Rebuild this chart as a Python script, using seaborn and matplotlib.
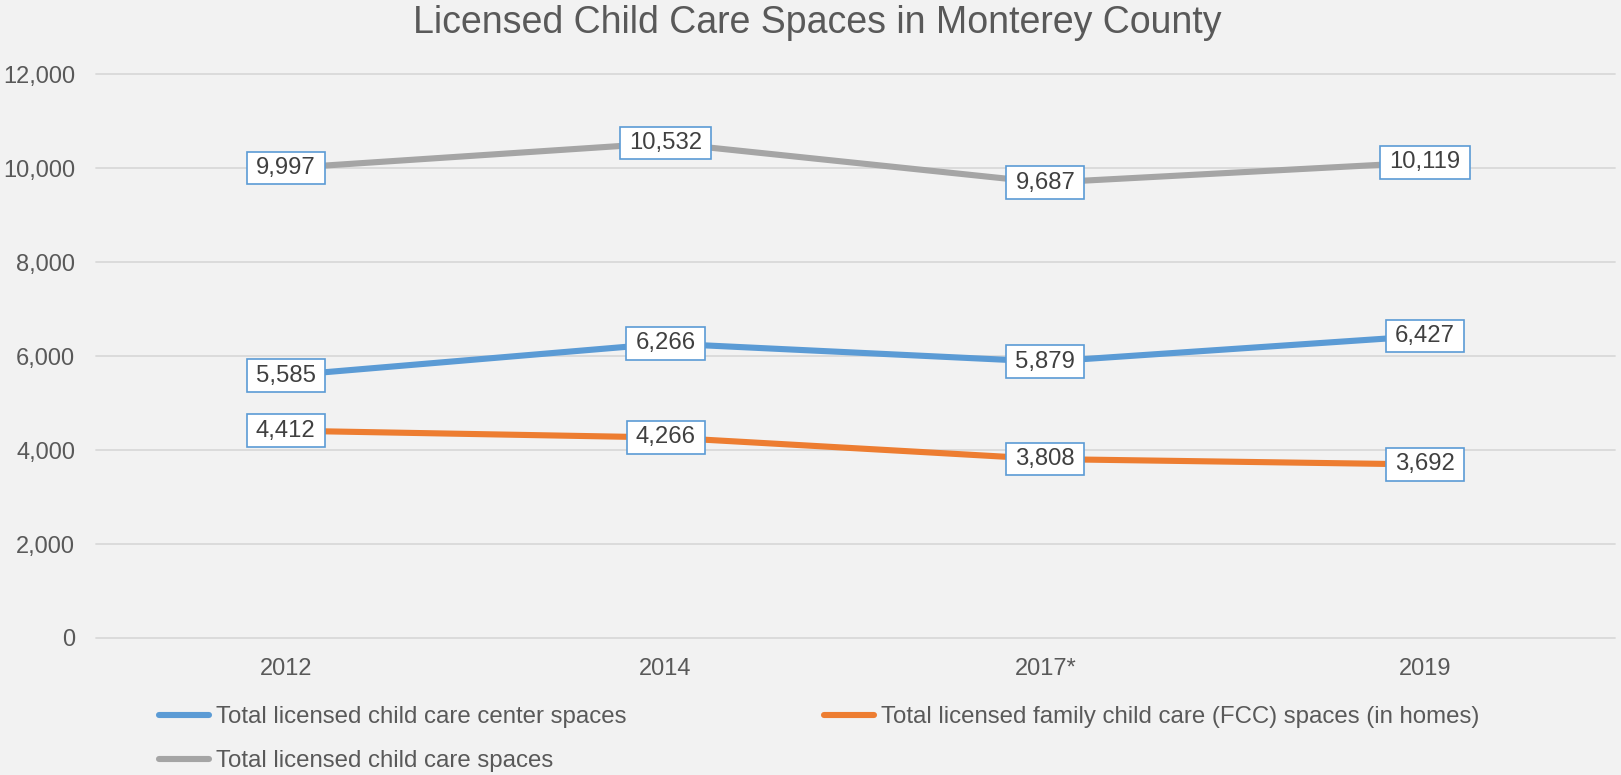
import numpy as np
import pandas as pd
import matplotlib
matplotlib.use("Agg")
import matplotlib.pyplot as plt
import seaborn as sns
from matplotlib.lines import Line2D
from matplotlib.path import Path

# ---- data ----
years = ["2012", "2014", "2017*", "2019"]
center_spaces = [5585, 6266, 5879, 6427]
fcc_spaces = [4412, 4266, 3808, 3692]
total_spaces = [9997, 10532, 9687, 10119]
series_names = [
    "Total licensed child care center spaces",
    "Total licensed family child care (FCC) spaces (in homes)",
    "Total licensed child care spaces",
]
y_ticks = [0, 2000, 4000, 6000, 8000, 10000, 12000]
title = "Licensed Child Care Spaces in Monterey County"

colors = ["#5B9BD5", "#ED7D31", "#A5A5A5"]
BG = "#F2F2F2"
TXT = "#595959"
LW = 4.4

sns.set_theme(style="white")
plt.rcParams["font.family"] = ["Liberation Sans", "DejaVu Sans"]

df = pd.DataFrame({
    "year": years * 3,
    "value": center_spaces + fcc_spaces + total_spaces,
    "series": [series_names[0]] * 4 + [series_names[1]] * 4 + [series_names[2]] * 4,
})

W, H = 1621, 775
fig = plt.figure(figsize=(W / 100, H / 100), dpi=100, facecolor=BG)
ax = fig.add_axes([96 / W, 1 - 638 / H, (1615 - 96) / W, (638 - 74) / H])
ax.set_facecolor(BG)

sns.lineplot(data=df, x="year", y="value", hue="series", hue_order=series_names,
             palette=colors, linewidth=LW, sort=False, errorbar=None, legend=False,
             ax=ax, solid_capstyle="round", solid_joinstyle="round", zorder=3)


def label_box(x0, y0, width, height, mutation_size):
    px = 0.38 * mutation_size
    py = 0.22 * mutation_size
    x0 -= px
    y0 -= py
    x1 = x0 + width + 2 * px
    y1 = y0 + height + 2 * py
    return Path([(x0, y0), (x1, y0), (x1, y1), (x0, y1), (x0, y0)], closed=True)


for vals in (center_spaces, fcc_spaces, total_spaces):
    for i, v in enumerate(vals):
        ax.text(i, v, f"{v:,}", ha="center", va="center", fontsize=17.2, color="#404040",
                bbox=dict(boxstyle=label_box, fc="white", ec="#5B9BD5", lw=1.2), zorder=5)

ax.set_xlim(-0.5, len(years) - 0.5)
ax.set_ylim(0, 12000)
ax.set_yticks(y_ticks)
ax.set_yticklabels([f"{t:,}" for t in y_ticks])
ax.set_xlabel("")
ax.set_ylabel("")
ax.tick_params(axis="y", length=0, pad=15, labelsize=17, labelcolor=TXT)
ax.tick_params(axis="x", length=0, pad=14.5, labelsize=17, labelcolor=TXT)
ax.yaxis.grid(True, color="#D9D9D9", lw=1.3)
ax.xaxis.grid(False)
for gl in ax.get_ygridlines():
    gl.set_clip_on(False)
for s in ax.spines.values():
    s.set_visible(False)

fig.text(817 / W, 1 - 33 / H, title, ha="center", va="baseline", fontsize=27, color=TXT)

handles = [Line2D([], [], color=c, lw=LW, solid_capstyle="round") for c in colors]
order = [0, 2, 1]
fig.legend(handles=[handles[k] for k in order], labels=[series_names[k] for k in order],
           ncol=2, loc="upper left", bbox_to_anchor=(159 / W, 1 - 706 / H),
           frameon=False, fontsize=17.3, handlelength=2.1, handletextpad=0.28,
           columnspacing=8.2, labelspacing=0.93, borderpad=0, borderaxespad=0,
           labelcolor=TXT)

fig.savefig("out.png", dpi=100, facecolor=BG)
